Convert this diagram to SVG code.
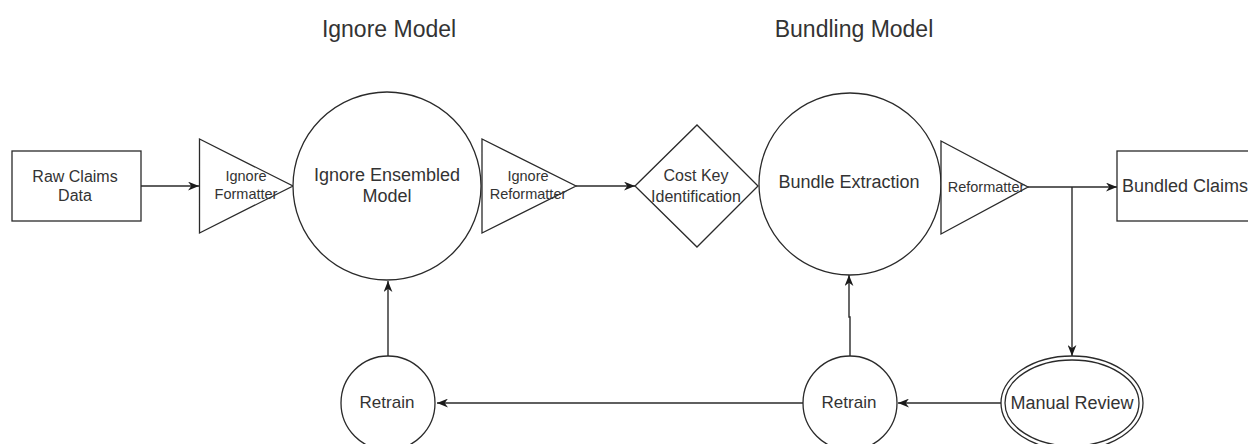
<svg xmlns="http://www.w3.org/2000/svg" width="1248" height="444" viewBox="0 0 1248 444">
<style>
.s{fill:#fff;stroke:#2a2a2a;stroke-width:1.3}
.c{fill:none;stroke:#2a2a2a;stroke-width:1.4}
text{font-family:"Liberation Sans",Arial,sans-serif;fill:#333;text-anchor:middle}
.t{font-size:23px}
.m{font-size:18px}
.n{font-size:16px}
.f{font-size:14.5px}
.r{font-size:17px}
</style>
<defs>
<marker id="a" viewBox="0 0 10 8" refX="10" refY="4" markerWidth="11" markerHeight="9" markerUnits="userSpaceOnUse" orient="auto">
<path d="M0,0 L10,4 L0,8 L3,4 z" fill="#1a1a1a"/>
</marker>
</defs>
<rect width="1248" height="444" fill="#fff"/>
<text class="t" x="389" y="37">Ignore Model</text>
<text class="t" x="854" y="37">Bundling Model</text>
<g id="connectors">
<path class="c" d="M141,186 H199" marker-end="url(#a)"/>
<path class="c" d="M576,186 H635" marker-end="url(#a)"/>
<path class="c" d="M1028,187 H1117" marker-end="url(#a)"/>
<path class="c" d="M1072,187 V356" marker-end="url(#a)"/>
<path class="c" d="M1001,403 H898" marker-end="url(#a)"/>
<path class="c" d="M803,403 H437" marker-end="url(#a)"/>
<path class="c" d="M388,356 V281" marker-end="url(#a)"/>
<path class="c" d="M850,356 V317 H849 V275" marker-end="url(#a)"/>
</g>
<g id="raw-claims">
<rect class="s" x="12" y="151" width="129" height="70"/>
<text class="n" x="75" y="182">Raw Claims</text>
<text class="n" x="75" y="201">Data</text>
</g>
<g id="ignore-formatter">
<polygon class="s" points="199.5,139 199.5,233 293,186"/>
<text class="f" x="246" y="181">Ignore</text>
<text class="f" x="246" y="199">Formatter</text>
</g>
<g id="ignore-ensembled-model">
<circle class="s" cx="387" cy="186" r="94"/>
<text class="m" x="387" y="181">Ignore Ensembled</text>
<text class="m" x="387" y="202">Model</text>
</g>
<g id="ignore-reformatter">
<polygon class="s" points="482,139 482,233 576,186"/>
<text class="f" x="528" y="181">Ignore</text>
<text class="f" x="528" y="199">Reformatter</text>
</g>
<g id="cost-key">
<polygon class="s" points="635,186 697,125 758,186 697,247"/>
<text class="n" x="696" y="181">Cost Key</text>
<text class="n" x="696" y="202">Identification</text>
</g>
<g id="bundle-extraction">
<circle class="s" cx="850" cy="184" r="91"/>
<text class="m" x="849" y="188">Bundle Extraction</text>
</g>
<g id="reformatter">
<polygon class="s" points="941,141 941,234 1028,187"/>
<text class="f" x="986" y="192">Reformatter</text>
</g>
<g id="bundled-claims">
<rect class="s" x="1117" y="151" width="150" height="70"/>
<text class="m" x="1122" y="192" style="text-anchor:start">Bundled Claims</text>
</g>
<g id="manual-review">
<ellipse class="s" cx="1072" cy="403" rx="71" ry="47"/>
<ellipse class="s" cx="1072" cy="403" rx="67" ry="43"/>
<text class="m" x="1072" y="409">Manual Review</text>
</g>
<g id="retrain-1">
<circle class="s" cx="388" cy="403" r="47"/>
<text class="r" x="387" y="408">Retrain</text>
</g>
<g id="retrain-2">
<circle class="s" cx="850" cy="403" r="47"/>
<text class="r" x="849" y="408">Retrain</text>
</g>
</svg>
